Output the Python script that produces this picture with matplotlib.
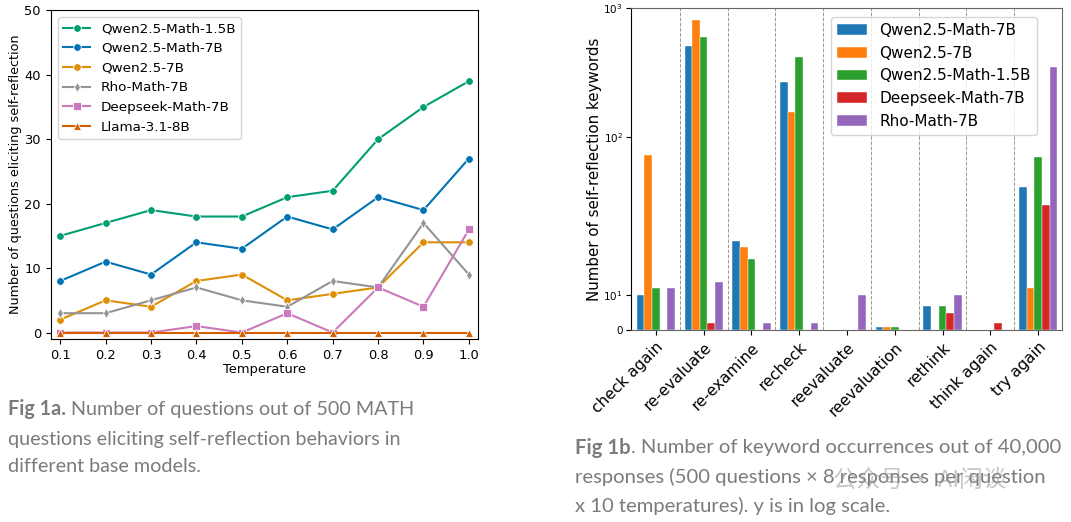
import numpy as np
import matplotlib
matplotlib.use("Agg")
import matplotlib.pyplot as plt

# ---------------- data: Fig 1a ----------------
temperatures = [0.1, 0.2, 0.3, 0.4, 0.5, 0.6, 0.7, 0.8, 0.9, 1.0]
line_models = ["Qwen2.5-Math-1.5B", "Qwen2.5-Math-7B", "Qwen2.5-7B",
               "Rho-Math-7B", "Deepseek-Math-7B", "Llama-3.1-8B"]
qwen_math_15b = [15, 17, 19, 18, 18, 21, 22, 30, 35, 39]
qwen_math_7b = [8, 11, 9, 14, 13, 18, 16, 21, 19, 27]
qwen_7b = [2, 5, 4, 8, 9, 5, 6, 7, 14, 14]
rho_math_7b = [3, 3, 5, 7, 5, 4, 8, 7, 17, 9]
deepseek_math_7b = [0, 0, 0, 1, 0, 3, 0, 7, 4, 16]
llama_8b = [0, 0, 0, 0, 0, 0, 0, 0, 0, 0]

# ---------------- data: Fig 1b ----------------
keywords = ["check again", "re-evaluate", "re-examine", "recheck", "reevaluate",
            "reevaluation", "rethink", "think again", "try again"]
bar_models = ["Qwen2.5-Math-7B", "Qwen2.5-7B", "Qwen2.5-Math-1.5B",
              "Deepseek-Math-7B", "Rho-Math-7B"]
kw_qwen_math_7b = [10, 510, 22, 266, 0, 1, 7, 0, 48]
kw_qwen_7b = [77, 800, 20, 156, 0, 1, 0, 0, 11]
kw_qwen_math_15b = [11, 600, 17, 420, 0, 1, 7, 0, 75]
kw_deepseek_math_7b = [0, 2, 0, 0, 0, 0, 5, 2, 37]
kw_rho_math_7b = [11, 12, 2, 2, 10, 0, 10, 0, 347]

# ---------------- figure ----------------
fig = plt.figure(figsize=(10.71, 5.22), dpi=100)

# ----- left panel -----
ax1 = fig.add_axes([0.0473, 0.3506, 0.3990, 0.6297])
line_series = [qwen_math_15b, qwen_math_7b, qwen_7b, rho_math_7b, deepseek_math_7b, llama_8b]
line_colors = ["#029e73", "#0173b2", "#de8f05", "#949494", "#cc78bc", "#d55e00"]
line_markers = ["o", "o", "o", "d", "s", "^"]
for name, vals, c, m in zip(line_models, line_series, line_colors, line_markers):
    ax1.plot(temperatures, vals, color=c, marker=m, markersize=5.5 if m != "d" else 5,
             markeredgecolor="white", markeredgewidth=0.6, linewidth=1.5, label=name)
ax1.set_xlim(0.079, 1.02)
ax1.set_ylim(-1, 50)
ax1.set_xticks(temperatures)
ax1.set_xticklabels([f"{t:.1f}" for t in temperatures])
ax1.set_yticks([0, 10, 20, 30, 40, 50])
ax1.tick_params(labelsize=9.4)
ax1.set_xlabel("Temperature", fontsize=9.4, labelpad=1)
ax1.set_ylabel("Number of questions eliciting self-reflection", fontsize=9.2, labelpad=2)
ax1.legend(loc="upper left", bbox_to_anchor=(0.017, 0.98), borderaxespad=0,
           fontsize=9.7, frameon=True, framealpha=0.8, edgecolor="#cccccc")

# ----- right panel -----
ax2 = fig.add_axes([0.5892, 0.3678, 0.4024, 0.6169])

# axis positions: 0->0, 10->35, 100->193, 1000->322 (px)
def fwd(y):
    y = np.asarray(y, dtype=float)
    ys = np.maximum(y, 1e-9)
    lin = ys / 10.0 * 35.0
    mid = 35.0 + 158.0 * np.log10(np.maximum(ys, 10.0) / 10.0)
    hi = 193.0 + 129.0 * np.log10(np.maximum(ys, 100.0) / 100.0)
    out = np.where(ys <= 10, lin, np.where(ys <= 100, mid, hi))
    return np.where(y <= 0, y / 10.0 * 35.0, out)

def inv(p):
    p = np.asarray(p, dtype=float)
    lin = p / 35.0 * 10.0
    mid = 10.0 * 10 ** ((p - 35.0) / 158.0)
    hi = 100.0 * 10 ** ((p - 193.0) / 129.0)
    return np.where(p <= 35, lin, np.where(p <= 193, mid, hi))

ax2.set_yscale("function", functions=(fwd, inv))

bar_series = [kw_qwen_math_7b, kw_qwen_7b, kw_qwen_math_15b, kw_deepseek_math_7b, kw_rho_math_7b]
bar_colors = ["#1f77b4", "#ff7f0e", "#2ca02c", "#d62728", "#9467bd"]
x = np.arange(len(keywords))
w = 0.16
for i, (name, vals, c) in enumerate(zip(bar_models, bar_series, bar_colors)):
    ax2.bar(x + (i - 2) * w, vals, width=w, color=c, label=name,
            edgecolor="white", linewidth=0.3)

for xv in x[:-1] + 0.5:
    ax2.axvline(xv, color="#999999", linestyle="--", linewidth=0.7, zorder=0)

ax2.set_xlim(-0.52, len(keywords) - 0.5)
ax2.set_ylim(0, 1000)
ax2.set_yticks([0, 10, 100, 1000])
ax2.set_yticklabels(["0", "$10^{1}$", "$10^{2}$", "$10^{3}$"], fontsize=7.5)
ax2.yaxis.set_minor_locator(matplotlib.ticker.NullLocator())
ax2.tick_params(axis="y", pad=2.5)
ax2.set_xticks(x)
ax2.set_xticklabels(keywords, rotation=45, ha="right", rotation_mode="anchor", fontsize=11.2)
ax2.set_ylabel("Number of self-reflection keywords", fontsize=10.8, labelpad=1)
ax2.legend(loc="upper right", bbox_to_anchor=(0.942, 0.972), borderaxespad=0,
           fontsize=11, frameon=True, framealpha=0.8, edgecolor="#cccccc")
for s in ["right", "bottom", "top"]:
    ax2.spines[s].set_color("#666666")

# ----- captions -----
cap_color = "#7b7b7b"
cap_font = "Lato"
renderer = fig.canvas.get_renderer()

def caption(x_px, y_px, bold, rest, size):
    t = fig.text(x_px / 1071, 1 - y_px / 522, bold, fontsize=size, color=cap_color,
                 fontweight="bold", family=cap_font, va="center")
    bb = t.get_window_extent(renderer)
    fig.text(bb.x1 / 1071, 1 - y_px / 522, rest, fontsize=size, color=cap_color,
             family=cap_font, va="center")

def plain(x_px, y_px, s, size):
    fig.text(x_px / 1071, 1 - y_px / 522, s, fontsize=size, color=cap_color,
             family=cap_font, va="center")

s1 = 14.2
caption(8, 409, "Fig 1a.", " Number of questions out of 500 MATH", s1)
plain(8, 439, "questions eliciting self-reflection behaviors in", s1)
plain(8, 467, "different base models.", s1)

s2 = 14.6
caption(575, 448, "Fig 1b", ". Number of keyword occurrences out of 40,000", s2)
plain(575, 477, "responses (500 questions × 8 responses per question", s2)
plain(575, 506, "x 10 temperatures). y is in log scale.", s2)

# watermark
fig.text(833 / 1071, 1 - 480 / 522, "公众号 · AI闲谈", fontsize=17, color="#9a9a9a",
         alpha=0.55, family=["Noto Sans CJK SC", "DejaVu Sans"], va="center")

fig.savefig("out.png", dpi=100)
